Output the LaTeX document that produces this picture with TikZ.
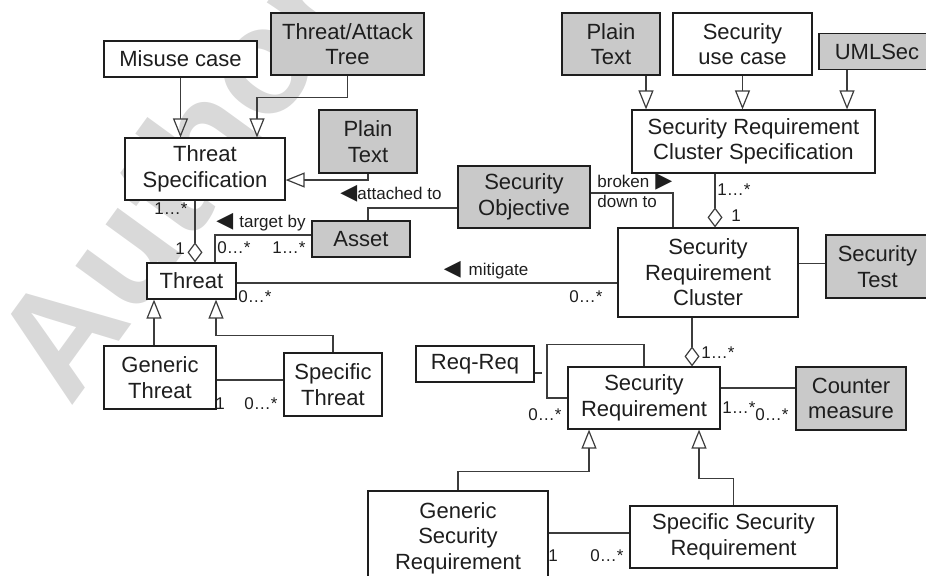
\documentclass[tikz,border=0pt]{standalone}
\usepackage{fontspec}
\setmainfont{Liberation Sans}
\newfontfamily\symbfont{DejaVu Sans}
\definecolor{DiagBlack}{HTML}{1E1E1E}
\definecolor{DiagLine}{HTML}{3C3C3C}
\definecolor{DiagGray}{HTML}{C9C9C9}
\definecolor{DiagMark}{HTML}{D9D9D9}
\definecolor{DiagWhite}{HTML}{FFFFFF}
\usepackage{tikz}
\usetikzlibrary{arrows.meta, calc}
\tikzset{
    umlbox/.style={
        draw=DiagBlack,
        fill=#1,
        line width=0.6pt,
        text=DiagBlack,
        font=\fontsize{11}{12.8}\selectfont,
        align=center,
        inner sep=2pt
    },
    umlbox/.default=DiagWhite,
    genline/.style={
        -{Triangle[open, length=9.5pt, width=7.5pt]},
        line width=0.6pt,
        DiagLine
    },
    aggline/.style={
        -{Diamond[open, length=10pt, width=7.5pt]},
        line width=0.6pt,
        DiagLine
    },
    assocline/.style={
        line width=0.6pt,
        DiagLine
    },
    mult/.style={
        font=\fontsize{8.5}{10}\selectfont,
        text=DiagBlack,
        inner sep=0pt,
        align=left
    },
    watermark/.style={
        font=\fontsize{75}{75}\selectfont\bfseries,
        text=DiagMark,
        rotate=54
    }
}
\newcommand{\dirleft}{{\symbfont\fontsize{11}{11}\selectfont ◀}}
\newcommand{\dirright}{{\symbfont\fontsize{11}{11}\selectfont ▶}}

\begin{document}
\begin{tikzpicture}[x=0.5pt, y=-0.5pt]
        \useasboundingbox (0,0) rectangle (926,575);

        % Watermark
        \node[watermark] (mark) at (172,178) {Author};

        % Threat boxes
        \node[umlbox, minimum width=76.5pt, minimum height=18pt] (misuse) at (180.5,59) {Misuse case};
        \node[umlbox=DiagGray, minimum width=76.5pt, minimum height=31pt] (attacktree) at (347.5,44) {Threat/Attack\\Tree};
        \node[umlbox, minimum width=80pt, minimum height=31pt] (threatspec) at (205,169) {Threat\\Specification};
        \node[umlbox=DiagGray, minimum width=49pt, minimum height=31.5pt] (plainleft) at (368,141.5) {Plain\\Text};
        \node[umlbox=DiagGray, minimum width=49pt, minimum height=18pt] (asset) at (361,239) {Asset};
        \node[umlbox, minimum width=44.5pt, minimum height=18pt] (threat) at (191.5,281) {Threat};
        \node[umlbox, minimum width=56pt, minimum height=31.5pt] (genthreat) at (160,377.5) {Generic\\Threat};
        \node[umlbox, minimum width=49pt, minimum height=31.5pt] (specthreat) at (333,384.5) {Specific\\Threat};

        % Requirement boxes
        \node[umlbox=DiagGray, minimum width=49pt, minimum height=31pt] (plainright) at (611,44) {Plain\\Text};
        \node[umlbox, minimum width=69.5pt, minimum height=31pt] (secusecase) at (742.5,44) {Security\\use case};
        \node[umlbox=DiagGray, minimum width=58pt, minimum height=18pt] (umlsec) at (877,51.5) {UMLSec};
        \node[umlbox, minimum width=121.5pt, minimum height=31.5pt] (clusterspec) at (753.5,141.5) {Security Requirement\\Cluster Specification};
        \node[umlbox=DiagGray, minimum width=66pt, minimum height=31pt] (secobj) at (524,197) {Security\\Objective};
        \node[umlbox, minimum width=90pt, minimum height=44.5pt] (cluster) at (708,272.5) {Security\\Requirement\\Cluster};
        \node[umlbox=DiagGray, minimum width=51.5pt, minimum height=31.5pt] (sectest) at (877.5,266.5) {Security\\Test};
        \node[umlbox, minimum width=59pt, minimum height=18pt] (reqreq) at (475,364) {Req-Req};
        \node[umlbox, minimum width=76pt, minimum height=31pt] (secreq) at (644,398) {Security\\Requirement};
        \node[umlbox=DiagGray, minimum width=55pt, minimum height=31.5pt] (counter) at (851,398.5) {Counter\\measure};
        \node[umlbox, minimum width=90pt, minimum height=47pt] (gensecreq) at (458,538) {Generic\\Security\\Requirement};
        \node[umlbox, minimum width=103.5pt, minimum height=31pt] (specsecreq) at (733.5,537) {Specific Security\\Requirement};

        % Bend points
        \coordinate (tsagg) at ($(threatspec.south)+(-10,0)$);
        \coordinate (tabend) at ($(attacktree.south)+(0,22)$);
        \coordinate (tsin) at ($(threatspec.north)+(52,0)$);
        \coordinate (thup) at ($(threat.north)+(23.5,0)$);
        \coordinate (asup) at ($(asset.north)+(7,0)$);
        \coordinate (soout) at ($(secobj.east)+(0,-4)$);
        \coordinate (clin) at ($(cluster.north)+(-35,0)$);
        \coordinate (csagg) at ($(cluster.north)+(7,0)$);
        \coordinate (clagg) at ($(cluster.south)+(-16,0)$);
        \coordinate (stin) at ($(sectest.west)+(0,-3)$);
        \coordinate (thout) at ($(threat.east)+(0,2)$);
        \coordinate (gtup) at ($(genthreat.north)+(-6,0)$);
        \coordinate (gtout) at ($(genthreat.east)+(0,2.5)$);
        \coordinate (ptdown) at ($(plainright.south)+(35,0)$);
        \coordinate (umdown) at ($(umlsec.south)+(-30,0)$);
        \coordinate (cmout) at ($(secreq.east)+(0,-10)$);
        \coordinate (rrout) at ($(reqreq.east)+(0,9)$);
        \coordinate (rrend) at ($(rrout)+(7,0)$);
        \coordinate (ssout) at ($(specsecreq.west)+(0,-4)$);

        % Generalizations
        \draw[genline] (misuse.south) -- (misuse.south |- threatspec.north);
        \draw[genline] (attacktree.south) -- (tabend) -| (tsin);
        \draw[genline] (plainleft.south) |- ($(threatspec.east)+(0,11)$);
        \draw[genline] (gtup) -- (gtup |- threat.south);
        \draw[genline] (specthreat.north) |- ($(threat.south)+(24.5,36)$) -- ($(threat.south)+(24.5,0)$);
        \draw[genline] (ptdown) -- (ptdown |- clusterspec.north);
        \draw[genline] (secusecase.south) -- (secusecase.south |- clusterspec.north);
        \draw[genline] (umdown) -- (umdown |- clusterspec.north);
        \draw[genline] (gensecreq.north) |- ($(secreq.south)+(-55,42)$) -- ($(secreq.south)+(-55,0)$);
        \draw[genline] (specsecreq.north) |- ($(secreq.south)+(55,49)$) -- ($(secreq.south)+(55,0)$);

        % Aggregations
        \draw[aggline] (tsagg) -- (tsagg |- threat.north);
        \draw[aggline] (csagg |- clusterspec.south) -- (csagg);
        \draw[aggline] (clagg) -- (clagg |- secreq.north);

        % Associations
        \draw[assocline] (thup) |- ($(asset.west)+(0,-4)$);
        \draw[assocline] (asup) |- ($(secobj.west)+(0,11)$);
        \draw[assocline] (soout) -| (clin);
        \draw[assocline] (thout) -- (thout -| cluster.west);
        \draw[assocline] (stin) -- (stin -| cluster.east);
        \draw[assocline] (gtout) -- (gtout -| specthreat.west);
        \draw[assocline] (secreq.north) |- ++(-97,-22) |- (secreq.west);
        \draw[assocline] (rrout) -- (rrend);
        \draw[assocline] (cmout) -- (cmout -| counter.west);
        \draw[assocline] (ssout) -- (ssout -| gensecreq.east);

        % Multiplicities and roles
        \node[mult] (m1) at (171,209) {1…*};
        \node[mult] (m2) at (180,249) {1};
        \node[mult] (m3) at (234,248) {0…*};
        \node[mult] (m4) at (289,248) {1…*};
        \node[mult] (m5) at (255,297) {0…*};
        \node[mult] (m6) at (586,297) {0…*};
        \node[mult] (m7) at (734,190) {1…*};
        \node[mult] (m8) at (736,216) {1};
        \node[mult] (m9) at (718,353) {1…*};
        \node[mult] (m10) at (545,415) {0…*};
        \node[mult] (m11) at (739,408) {1…*};
        \node[mult] (m12) at (772,415) {0…*};
        \node[mult] (m13) at (220,404) {1};
        \node[mult] (m14) at (261,404) {0…*};
        \node[mult] (m15) at (553,556) {1};
        \node[mult] (m16) at (607,556) {0…*};
        \node[mult] (targetby) at (261,222) {\dirleft\hspace{3pt}target by};
        \node[mult] (attachedto) at (391,194) {\dirleft attached to};
        \node[mult] (mitigate) at (486,270) {\dirleft\hspace{4pt}mitigate};
        \node[mult, anchor=north west] (brokendown) at (597,173) {broken\hspace{3pt}\dirright\\down to};
    \end{tikzpicture}
\end{document}
